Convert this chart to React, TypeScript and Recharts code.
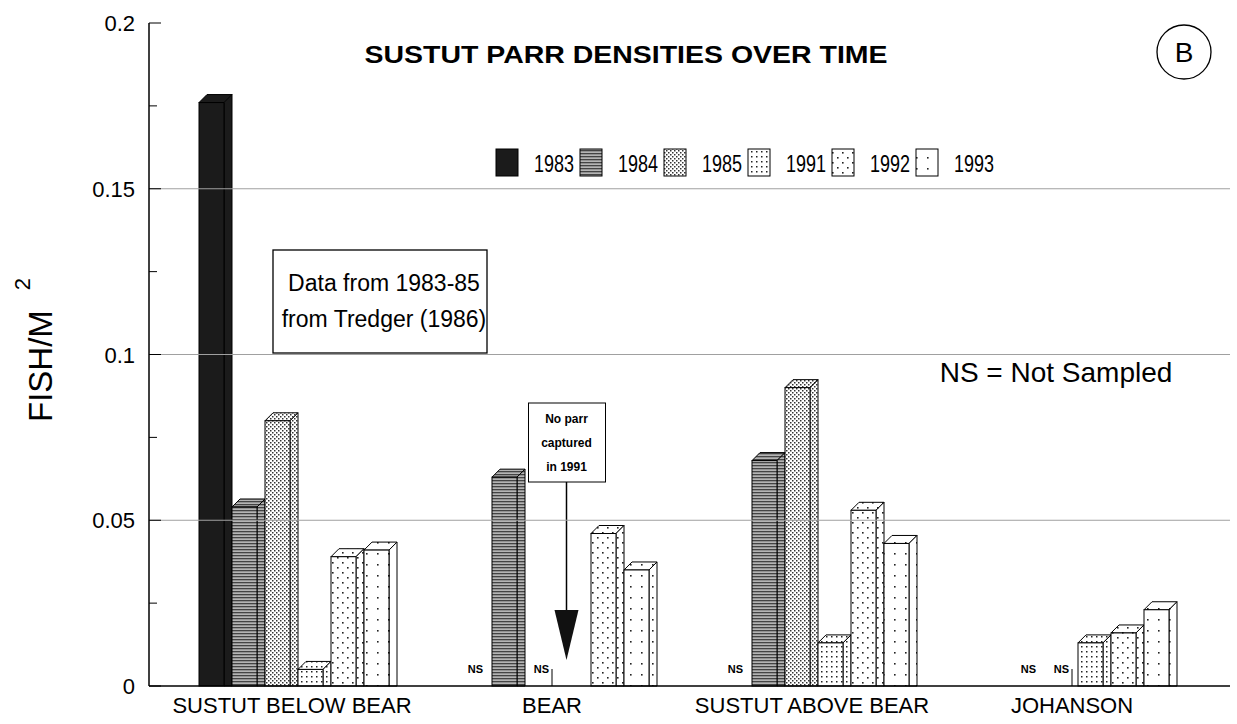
import React from "react"
import { BarChart, Bar, XAxis, YAxis, ReferenceLine } from "recharts"

const FONT = "'Liberation Sans', Arial, Helvetica, sans-serif"

// sites along the x axis
const categories = ["SUSTUT BELOW BEAR", "BEAR", "SUSTUT ABOVE BEAR", "JOHANSON"]
const years = ["1983", "1984", "1985", "1991", "1992", "1993"]

// parr densities (fish / m2)
const v1983 = [0.176, 0, 0, 0]
const v1984 = [0.054, 0.063, 0.068, 0]
const v1985 = [0.08, 0, 0.09, 0]
const v1991 = [0.005, 0, 0.013, 0.013]
const v1992 = [0.039, 0.046, 0.053, 0.016]
const v1993 = [0.041, 0.035, 0.043, 0.023]

// not sampled flags
const ns1983 = [false, true, true, false]
const ns1984 = [false, false, false, true]
const ns1985 = [false, true, false, true]
// "no parr captured" note
const noParr1991 = [false, true, false, false]

const yTicks = [0, 0.025, 0.05, 0.075, 0.1, 0.125, 0.15, 0.175, 0.2]
const yMajor = [0, 0.05, 0.1, 0.15, 0.2]
const gridValues = [0.05, 0.1, 0.15]

const values: Record<string, number[]> = { "1983": v1983, "1984": v1984, "1985": v1985, "1991": v1991, "1992": v1992, "1993": v1993 }
const notSampled: Record<string, boolean[]> = { "1983": ns1983, "1984": ns1984, "1985": ns1985 }
const noParr: Record<string, boolean[]> = { "1991": noParr1991 }

const chartData = categories.map((cat, i) => {
  const row: any = { cat }
  years.forEach((yr) => {
    row[`y${yr}`] = values[yr][i]
    row[`ns${yr}`] = notSampled[yr] ? notSampled[yr][i] : false
    row[`np${yr}`] = noParr[yr] ? noParr[yr][i] : false
  })
  return row
})

const DEPTH = 8
const TICK_MARGIN = 14

const fillFor = (yr: string) => (yr === "1983" ? "#1b1b1b" : `url(#pat${yr})`)

function Bar3D(props: any) {
  const { x, y, width, height, payload, year } = props
  const fw = width - DEPTH
  const base = y + height

  if (payload[`ns${year}`]) {
    return (
      <g>
        <text x={x + width / 2} y={base - 13} textAnchor="middle" fontSize={11} fontWeight="bold" fontFamily={FONT} fill="#000">
          NS
        </text>
        {year === "1985" && <line x1={x + 27} x2={x + 27} y1={base - 17} y2={base} stroke="#000" />}
      </g>
    )
  }

  if (payload[`np${year}`]) {
    const cx = x + fw / 2 - 4
    return (
      <g fontFamily={FONT} fontWeight="bold" fontSize={12} fill="#000">
        <rect x={cx - 38} y={base - 283} width={77} height={79} fill="#fff" stroke="#000" />
        <text x={cx} y={base - 263} textAnchor="middle">No parr</text>
        <text x={cx} y={base - 239} textAnchor="middle">captured</text>
        <text x={cx} y={base - 215} textAnchor="middle">in 1991</text>
        <line x1={cx} x2={cx} y1={base - 204} y2={base - 74} stroke="#000" strokeWidth={1.5} />
        <polygon points={`${cx - 12},${base - 76} ${cx + 12},${base - 76} ${cx},${base - 26}`} fill="#111" />
      </g>
    )
  }

  if (!height || height <= 0) return null
  const fill = fillFor(year)
  return (
    <g stroke="#000" strokeWidth={1} fill={fill}>
      <polygon points={`${x},${y} ${x + DEPTH},${y - DEPTH} ${x + width},${y - DEPTH} ${x + fw},${y}`} />
      <polygon points={`${x + fw},${y} ${x + width},${y - DEPTH} ${x + width},${base} ${x + fw},${base}`} />
      <rect x={x} y={y} width={fw} height={height} />
    </g>
  )
}

function YTick(props: any) {
  const { x, y, payload } = props
  const v = payload.value
  const major = yMajor.includes(v)
  const ax = x + TICK_MARGIN
  return (
    <g>
      <line x1={ax} x2={ax + (major ? 12 : 8)} y1={y} y2={y} stroke="#000" />
      {major && (
        <text x={x} y={y} dy={8} textAnchor="end" fontSize={22} fontFamily={FONT} fill="#000">
          {String(v)}
        </text>
      )}
    </g>
  )
}

function Patterns() {
  return (
    <defs>
      <pattern id="pat1984" width="4" height="3" patternUnits="userSpaceOnUse">
        <rect width="4" height="3" fill="#b4b4b4" />
        <rect width="4" height="1.3" fill="#444" />
      </pattern>
      <pattern id="pat1985" width="4" height="4" patternUnits="userSpaceOnUse">
        <rect width="4" height="4" fill="#fff" />
        <rect x="0" y="0" width="1.5" height="1.5" fill="#333" />
        <rect x="2" y="2" width="1.5" height="1.5" fill="#333" />
      </pattern>
      <pattern id="pat1991" width="5" height="5" patternUnits="userSpaceOnUse">
        <rect width="5" height="5" fill="#fff" />
        <rect x="1" y="1" width="1.5" height="1.5" fill="#222" />
      </pattern>
      <pattern id="pat1992" width="10" height="10" patternUnits="userSpaceOnUse">
        <rect width="10" height="10" fill="#fff" />
        <rect x="2" y="2" width="1.6" height="1.6" fill="#222" />
        <rect x="7" y="7" width="1.6" height="1.6" fill="#222" />
      </pattern>
      <pattern id="pat1993" width="11" height="11" patternUnits="userSpaceOnUse">
        <rect width="11" height="11" fill="#fff" />
        <rect x="3" y="3" width="1.6" height="1.6" fill="#222" />
      </pattern>
    </defs>
  )
}

function Overlay() {
  const legendX = 496
  const step = 84
  return (
    <svg width={1237} height={724} style={{ position: "absolute", left: 0, top: 0, pointerEvents: "none" }} fontFamily={FONT}>
      <text x={626} y={63} textAnchor="middle" fontSize={23} fontWeight="bold" textLength={523} lengthAdjust="spacingAndGlyphs">
        SUSTUT PARR DENSITIES OVER TIME
      </text>
      <circle cx={1184} cy={52} r={27} fill="none" stroke="#000" strokeWidth={1.3} />
      <text x={1184} y={62} textAnchor="middle" fontSize={28}>B</text>

      {years.map((yr, i) => (
        <g key={yr}>
          <rect x={legendX + i * step} y={149} width={22} height={27} fill={fillFor(yr)} stroke="#000" />
          <text x={legendX + i * step + 38} y={172} fontSize={23} textLength={40} lengthAdjust="spacingAndGlyphs">
            {yr}
          </text>
        </g>
      ))}

      <rect x={273} y={250} width={214} height={103} fill="#fff" stroke="#000" strokeWidth={1.3} />
      <text x={384} y={291} textAnchor="middle" fontSize={23}>Data from 1983-85</text>
      <text x={384} y={327} textAnchor="middle" fontSize={23}>from Tredger (1986)</text>

      <text x={1056} y={382} textAnchor="middle" fontSize={28}>NS = Not Sampled</text>

      <text transform="translate(52,422) rotate(-90)" fontSize={33}>
        FISH/M
        <tspan dx={20} dy={-22} fontSize={22}>2</tspan>
      </text>
    </svg>
  )
}

export default function App() {
  return (
    <div style={{ position: "fixed", left: 0, top: 0, width: 1237, height: 724, background: "#fff", fontFamily: FONT }}>
      <BarChart width={1237} height={724} data={chartData} margin={{ top: 23, right: 7, bottom: 0, left: 0 }} barGap={0} barSize={33}>
        <Patterns />
        <XAxis
          dataKey="cat"
          height={38}
          padding={{ left: 19, right: 22 }}
          tickLine={false}
          tickSize={0}
          tickMargin={11}
          axisLine={{ stroke: "#000", strokeWidth: 1.5 }}
          tick={{ fontSize: 22, fill: "#000", fontFamily: FONT, dx: -6 }}
          interval={0}
        />
        <XAxis xAxisId="top" dataKey="cat" orientation="top" height={0} tick={false} tickLine={false} axisLine={{ stroke: "#000", strokeWidth: 1.5 }} />
        <YAxis
          width={149}
          domain={[0, 0.2]}
          ticks={yTicks}
          interval={0}
          tickLine={false}
          tickSize={0}
          tickMargin={TICK_MARGIN}
          axisLine={{ stroke: "#000", strokeWidth: 1.5 }}
          tick={<YTick />}
        />
        <YAxis yAxisId="right" orientation="right" width={0} tick={false} tickLine={false} axisLine={{ stroke: "#000", strokeWidth: 1.5 }} />
        {gridValues.map((v) => (
          <ReferenceLine key={v} y={v} stroke="#a0a0a0" strokeWidth={1} />
        ))}
        {years.map((yr) => (
          <Bar key={yr} dataKey={`y${yr}`} isAnimationActive={false} shape={(p: any) => <Bar3D {...p} year={yr} />} />
        ))}
      </BarChart>
      <Overlay />
    </div>
  )
}
